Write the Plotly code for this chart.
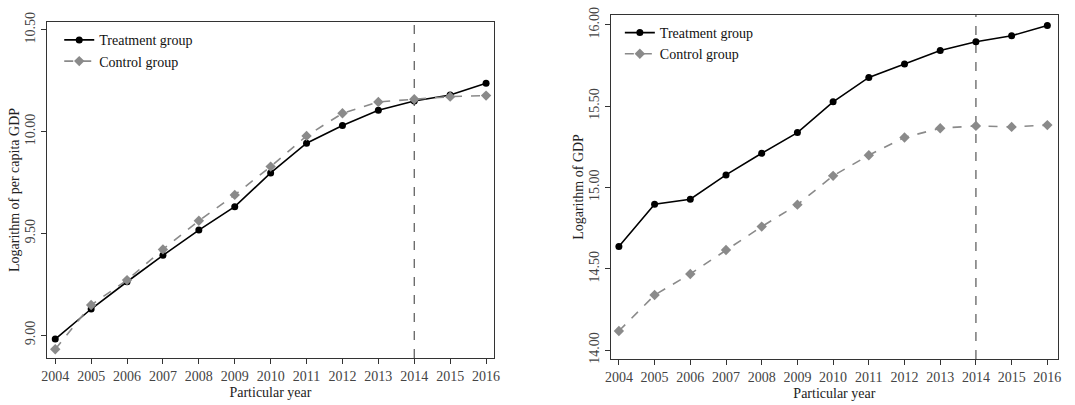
import plotly.graph_objects as go

years = [2004, 2005, 2006, 2007, 2008, 2009, 2010, 2011, 2012, 2013, 2014, 2015, 2016]

pc_treatment = [8.98, 9.128, 9.262, 9.392, 9.516, 9.631, 9.797, 9.943, 10.03, 10.105, 10.151, 10.18, 10.238]
pc_control = [8.93, 9.148, 9.27, 9.421, 9.562, 9.689, 9.828, 9.979, 10.09, 10.146, 10.159, 10.172, 10.177]

gdp_treatment = [14.636, 14.896, 14.927, 15.077, 15.21, 15.337, 15.526, 15.676, 15.758, 15.842, 15.895, 15.932, 15.996]
gdp_control = [14.117, 14.338, 14.468, 14.615, 14.759, 14.894, 15.071, 15.198, 15.307, 15.364, 15.378, 15.372, 15.383]

left_yticks = [9.0, 9.5, 10.0, 10.5]
left_yticklabels = ["9.00", "9.50", "10.00", "10.50"]
right_yticks = [14.0, 14.5, 15.0, 15.5, 16.0]
right_yticklabels = ["14.00", "14.50", "15.00", "15.50", "16.00"]
policy_year = 2014

FONT = "Liberation Serif"
TREAT_COLOR = "#000000"
CTRL_COLOR = "#8a8a8a"

fig = go.Figure()

def add_pair(t, c, xa, ya, legend):
    fig.add_trace(go.Scatter(
        x=years, y=t, mode="lines+markers", name="Treatment group",
        line=dict(color=TREAT_COLOR, width=1.6),
        marker=dict(symbol="circle", size=7, color=TREAT_COLOR),
        xaxis=xa, yaxis=ya, legend=legend))
    fig.add_trace(go.Scatter(
        x=years, y=c, mode="lines+markers", name="Control group",
        line=dict(color=CTRL_COLOR, width=1.6, dash="dash"),
        marker=dict(symbol="diamond", size=8, color=CTRL_COLOR),
        xaxis=xa, yaxis=ya, legend=legend))

add_pair(pc_treatment, pc_control, "x", "y", "legend")
add_pair(gdp_treatment, gdp_control, "x2", "y2", "legend2")

axis_common = dict(
    showline=True, mirror=True, linecolor="#333333", linewidth=1.1,
    ticks="outside", ticklen=5, tickcolor="#333333", showgrid=False, zeroline=False,
    tickfont=dict(family=FONT, size=14, color="#444444"), automargin=False,
)
title_font = dict(family=FONT, size=14, color="#222222")

fig.update_layout(
    width=1075, height=405,
    margin=dict(l=0, r=0, t=0, b=0, autoexpand=False),
    paper_bgcolor="white", plot_bgcolor="white",
    font=dict(family=FONT, color="#222222"),
    xaxis=dict(domain=[0.0437, 0.4595], range=[2003.77, 2016.22], tickvals=years,
               title=dict(text="Particular year", font=title_font, standoff=4),
               anchor="y", **axis_common),
    yaxis=dict(domain=[0.116, 0.9457], range=[8.887, 10.539], tickvals=left_yticks,
               ticktext=left_yticklabels, tickangle=-90,
               title=dict(text="Logarithm of per capita GDP", font=title_font, standoff=0),
               anchor="x", **axis_common),
    xaxis2=dict(domain=[0.5684, 0.9839], range=[2003.78, 2016.29], tickvals=years,
                title=dict(text="Particular year", font=title_font, standoff=4),
                anchor="y2", **axis_common),
    yaxis2=dict(domain=[0.1136, 0.963], range=[13.945, 16.06], tickvals=right_yticks,
                ticktext=right_yticklabels, tickangle=-90,
                title=dict(text="Logarithm of GDP", font=title_font, standoff=0),
                anchor="x2", **axis_common),
    legend=dict(x=0.0551, y=0.94, xanchor="left", yanchor="top", bgcolor="rgba(0,0,0,0)",
                font=dict(family=FONT, size=14, color="#111111"), tracegroupgap=0),
    legend2=dict(x=0.5766, y=0.958, xanchor="left", yanchor="top", bgcolor="rgba(0,0,0,0)",
                 font=dict(family=FONT, size=14, color="#111111"), tracegroupgap=0),
    showlegend=True,
)

for xr, yr in [("x", "y"), ("x2", "y2")]:
    fig.add_shape(type="line", xref=xr, yref=yr + " domain", x0=policy_year, x1=policy_year,
                  y0=0, y1=1, line=dict(color="#555555", width=1.2, dash="dash"), layer="below")

fig.write_html("out.html", config={"displayModeBar": False},
               post_script="document.body.style.margin='0';")
